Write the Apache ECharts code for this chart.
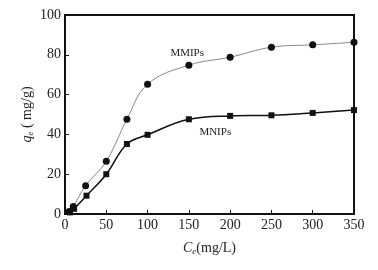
<!DOCTYPE html>
<html><head><meta charset="utf-8">
<script src="https://cdn.jsdelivr.net/npm/echarts@6/dist/echarts.min.js"></script>
<style>html,body{margin:0;padding:0;background:#fff}#c{width:378px;height:270px}</style>
</head><body><div id="c"></div>
<script>
var xMMIPs = [5, 10, 25, 50, 75, 100, 150, 200, 250, 300, 350];
var yMMIPs = [1.2, 3.8, 14.2, 26.5, 47.6, 65.2, 74.8, 78.8, 83.8, 85.0, 86.3];
var xMNIPs = [6, 11, 26, 50, 75, 100, 150, 200, 250, 300, 350];
var yMNIPs = [0.8, 2.6, 9.2, 20.0, 35.2, 39.8, 47.6, 49.3, 49.6, 50.8, 52.2];
var xTicks = [0, 50, 100, 150, 200, 250, 300, 350];
var yTicks = [0, 20, 40, 60, 80, 100];
var labelMMIPs = {name: 'MMIPs', coord: [148, 81]};
var labelMNIPs = {name: 'MNIPs', coord: [182, 41]};

function pairs(xs, ys){ return xs.map(function(x,i){return [x, ys[i]];}); }
var font = '"Liberation Serif", "DejaVu Serif", serif';
var chart = echarts.init(document.getElementById('c'));
chart.setOption({
  animation: false,
  backgroundColor: '#fff',
  grid: {left: 65, right: 24, top: 15, bottom: 56, show: true, borderColor: '#111', borderWidth: 2, backgroundColor: 'transparent'},
  xAxis: {
    type: 'value', min: xTicks[0], max: xTicks[xTicks.length-1], interval: 50,
    axisLine: {lineStyle: {color: '#111', width: 2}},
    axisTick: {inside: true, length: 4, lineStyle: {color: '#111', width: 1}},
    splitLine: {show: false},
    axisLabel: {color: '#222', fontFamily: font, fontSize: 14, margin: 4},
    name: '{i|C}{s|e}{n|(mg/L)}', nameLocation: 'middle', nameGap: 27, nameMoveOverlap: false,
    nameTextStyle: {rich: {
      i: {fontFamily: font, fontStyle: 'italic', fontSize: 14, color: '#222'},
      s: {fontFamily: font, fontStyle: 'italic', fontSize: 9, color: '#222', verticalAlign: 'bottom', padding: [6,0,0,0]},
      n: {fontFamily: font, fontSize: 14, color: '#222'}
    }}
  },
  yAxis: {
    type: 'value', min: yTicks[0], max: yTicks[yTicks.length-1], interval: 20,
    axisLine: {lineStyle: {color: '#111', width: 2}},
    axisTick: {inside: true, length: 4, lineStyle: {color: '#111', width: 1}},
    splitLine: {show: false},
    axisLabel: {color: '#222', fontFamily: font, fontSize: 14, margin: 4},
    name: '{i|q}{s|e}{n| ( mg/g)}', nameLocation: 'middle', nameGap: 30, nameRotate: 90, nameMoveOverlap: false,
    nameTextStyle: {rich: {
      i: {fontFamily: font, fontStyle: 'italic', fontSize: 14, color: '#222'},
      s: {fontFamily: font, fontStyle: 'italic', fontSize: 9, color: '#222', padding: [6,0,0,0]},
      n: {fontFamily: font, fontSize: 14, color: '#222'}
    }}
  },
  series: [
    {
      name: 'MMIPs', type: 'line', smooth: 0.4, data: pairs(xMMIPs, yMMIPs),
      symbol: 'circle', symbolSize: 7,
      itemStyle: {color: '#111'},
      lineStyle: {color: '#888', width: 1},
      markPoint: {symbol: 'circle', symbolSize: 0, data: [{coord: labelMMIPs.coord, value: labelMMIPs.name}],
        label: {show: true, position: 'inside', formatter: labelMMIPs.name, color: '#222', fontFamily: font, fontSize: 11}}
    },
    {
      name: 'MNIPs', type: 'line', smooth: 0.4, data: pairs(xMNIPs, yMNIPs),
      symbol: 'rect', symbolSize: 6,
      itemStyle: {color: '#111'},
      lineStyle: {color: '#111', width: 1.5},
      markPoint: {symbol: 'circle', symbolSize: 0, data: [{coord: labelMNIPs.coord, value: labelMNIPs.name}],
        label: {show: true, position: 'inside', formatter: labelMNIPs.name, color: '#222', fontFamily: font, fontSize: 11}}
    }
  ]
});
</script></body></html>
